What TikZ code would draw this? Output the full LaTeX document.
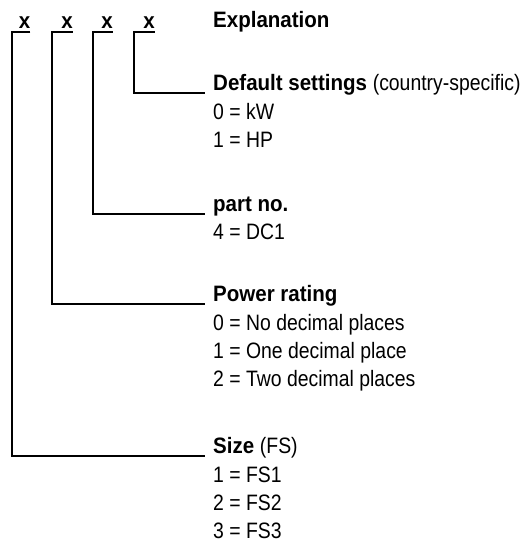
\documentclass[tikz,border=0pt]{standalone}
\usepackage{fontspec}
\setmainfont{Liberation Sans}[FakeStretch=0.87,BoldFeatures={FakeStretch=0.92}]
\begin{document}
\begin{tikzpicture}[x=1pt,y=1pt,
  txt/.style={anchor=base west,inner sep=0pt,font=\fontsize{22.3}{25}\selectfont},
  hdr/.style={txt,font=\fontsize{22.3}{25}\selectfont\bfseries},
  lead/.style={line width=1.1pt}]
\useasboundingbox (0,0) rectangle (521,-546);
% code letters
\foreach \i/\xx in {1/24.5,2/67,3/107,4/149}
  \node[hdr,anchor=base] (x\i) at (\xx,-28) {x};
\node[hdr] (expl) at (213,-27.5) {Explanation};
% headers
\node[hdr] (h4) at (213,-90.5) {Default settings \mdseries(country-specific)};
\node[txt] (h4a) at (213,-119.3) {0 = kW};
\node[txt] (h4b) at (213,-147.6) {1 = HP};
\node[hdr] (h3) at (213,-211) {part no.};
\node[txt] (h3a) at (213,-239.8) {4 = DC1};
\node[hdr] (h2) at (213,-301) {Power rating};
\node[txt] (h2a) at (213,-330) {0 = No decimal places};
\node[txt] (h2b) at (213,-358.3) {1 = One decimal place};
\node[txt] (h2c) at (213,-386.6) {2 = Two decimal places};
\node[hdr] (h1) at (213,-453) {Size \mdseries(FS)};
\node[txt] (h1a) at (213,-482) {1 = FS1};
\node[txt] (h1b) at (213,-510.3) {2 = FS2};
\node[txt] (h1c) at (213,-538.6) {3 = FS3};
% corner points
\coordinate (c1) at (12,-32);
\coordinate (c2) at (52,-32);
\coordinate (c3) at (93,-32);
\coordinate (c4) at (134,-32);
\draw[lead] (c1 -| x1.east) -- (c1) |- ([xshift=-8pt,yshift=-3pt]h1.base west);
\draw[lead] (c2 -| x2.east) -- (c2) |- ([xshift=-8pt,yshift=-3pt]h2.base west);
\draw[lead] (c3 -| x3.east) -- (c3) |- ([xshift=-8pt,yshift=-3pt]h3.base west);
\draw[lead] (c4 -| x4.east) -- (c4) |- ([xshift=-8pt,yshift=-2.5pt]h4.base west);
\end{tikzpicture}
\end{document}
